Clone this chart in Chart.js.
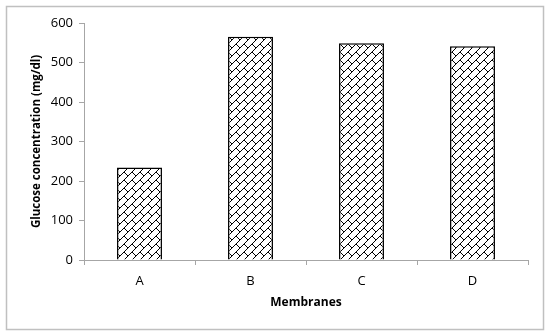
<!DOCTYPE html>
<html>
<head>
    <title>Glucose concentration by membrane</title>
    <script src="https://cdn.jsdelivr.net/npm/chart.js"></script>
    <style>
        body { margin: 0; background: #fff; }
        #wrap { position: relative; width: 550px; height: 335px; }
    </style>
</head>
<body>
    <div id="wrap">
        <canvas id="barChart" width="550" height="335"></canvas>
    </div>

    <script>
        const membranes = ['A', 'B', 'C', 'D'];
        const glucose = [234, 565, 549, 541];
        const yTicks = [0, 100, 200, 300, 400, 500, 600];
        const xTitle = 'Membranes';
        const yTitle = 'Glucose concentration (mg/dl)';

        // diagonal brick fill, like the Excel pattern
        function brickPattern() {
            const c = document.createElement('canvas');
            c.width = 8;
            c.height = 8;
            const g = c.getContext('2d');
            g.fillStyle = '#fff';
            g.fillRect(0, 0, 8, 8);
            g.fillStyle = '#000';
            for (let i = 0; i < 8; i++) g.fillRect(7 - i, i, 1, 1);
            for (let i = 4; i < 8; i++) g.fillRect(i, i, 1, 1);
            return g.createPattern(c, 'repeat');
        }

        // white background + light frame round the whole chart
        const frame = {
            id: 'frame',
            beforeDraw(chart) {
                const ctx = chart.ctx;
                ctx.save();
                ctx.fillStyle = '#fff';
                ctx.fillRect(0, 0, chart.width, chart.height);
                ctx.strokeStyle = '#c0c0c0';
                ctx.lineWidth = 1.5;
                ctx.strokeRect(6.5, 6.5, 537, 323);
                ctx.restore();
            }
        };

        // axis titles centred on the plot area
        const axisTitles = {
            id: 'axisTitles',
            afterDraw(chart) {
                const ctx = chart.ctx;
                const area = chart.chartArea;
                ctx.save();
                ctx.fillStyle = '#000';
                ctx.textAlign = 'center';
                ctx.textBaseline = 'middle';
                ctx.font = 'bold 12px "Open Sans"';
                ctx.fillText(xTitle, (area.left + area.right) / 2, 303);
                ctx.translate(37, (area.top + area.bottom) / 2);
                ctx.rotate(-Math.PI / 2);
                ctx.font = 'bold 11.5px "Open Sans"';
                ctx.fillText(yTitle, 0, 0);
                ctx.restore();
            }
        };

        const ctx = document.getElementById('barChart').getContext('2d');
        new Chart(ctx, {
            type: 'bar',
            data: {
                labels: membranes,
                datasets: [{
                    data: glucose,
                    backgroundColor: brickPattern(),
                    borderColor: '#000',
                    borderWidth: 1.5,
                    barPercentage: 0.405,
                    categoryPercentage: 1
                }]
            },
            plugins: [frame, axisTitles],
            options: {
                responsive: false,
                animation: false,
                layout: { padding: { top: 23, right: 22, left: 0, bottom: 0 } },
                plugins: {
                    legend: { display: false },
                    tooltip: { enabled: false }
                },
                scales: {
                    x: {
                        afterFit: s => { s.height = 75; },
                        grid: {
                            drawOnChartArea: false,
                            color: '#a6a6a6',
                            tickLength: 5
                        },
                        border: { color: '#a6a6a6' },
                        ticks: {
                            color: '#000',
                            padding: 8,
                            font: { family: 'Open Sans', size: 13 }
                        }
                    },
                    y: {
                        min: 0,
                        max: 600,
                        afterFit: s => { s.width = 84; },
                        afterBuildTicks: s => { s.ticks = yTicks.map(v => ({ value: v })); },
                        grid: {
                            drawOnChartArea: false,
                            color: '#a6a6a6',
                            tickLength: 5
                        },
                        border: { color: '#a6a6a6' },
                        ticks: {
                            color: '#000',
                            padding: 6,
                            font: { family: 'Open Sans', size: 13 }
                        }
                    }
                }
            }
        });
    </script>
</body>
</html>
